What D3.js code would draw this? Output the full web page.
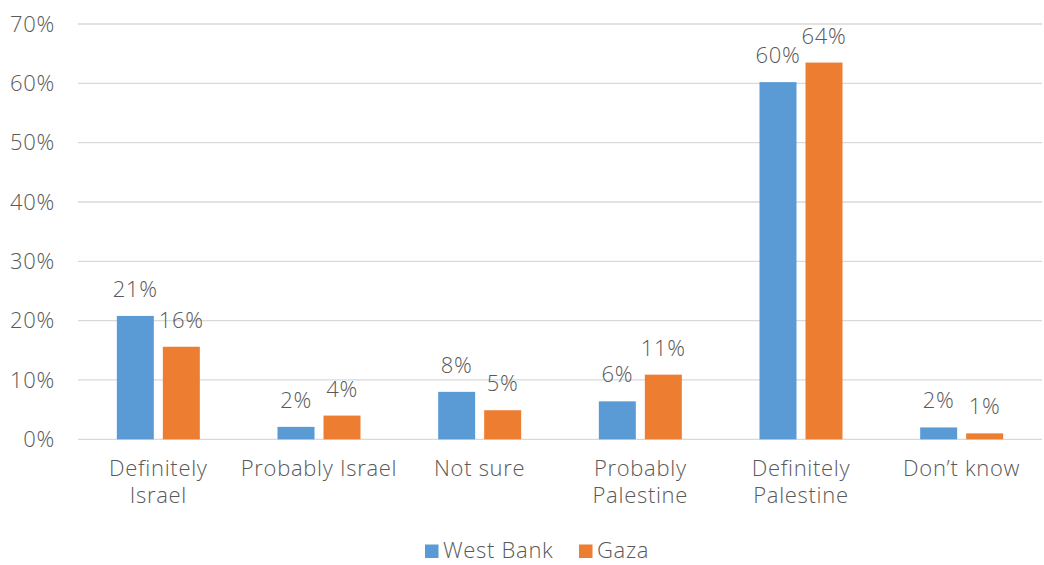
<!DOCTYPE html>
<html><head><meta charset="utf-8">
<script src="https://cdn.jsdelivr.net/npm/d3@7"></script>
<style>body{margin:0;background:#fff;} svg{display:block;font-family:"Open Sans",Lato,sans-serif;font-weight:300;letter-spacing:0.7px;}</style>
</head><body>
<svg id="c" width="1044" height="565"></svg>
<script>
const categories = [["Definitely","Israel"],["Probably Israel"],["Not sure"],["Probably","Palestine"],["Definitely","Palestine"],["Don’t know"]];
const seriesNames = ["West Bank","Gaza"];
const westBank = [20.8, 2.1, 8.0, 6.4, 60.2, 2.0];
const gaza = [15.6, 4.0, 4.9, 10.9, 63.5, 1.0];
const yTicks = [0,10,20,30,40,50,60,70];
const colors = ["#5b9bd5","#ed7d31"];

const svg = d3.select("#c");
const W=1044, H=565;
const m = {l:78, r:2, t:24, b:126};
const x = d3.scaleBand().domain(d3.range(categories.length)).range([m.l, W-m.r]);
const y = d3.scaleLinear().domain([0,70]).range([439.3, 24]);
const txt = "#595959";
const fs = 22;

// gridlines
svg.append("g").selectAll("line").data(yTicks).join("line")
  .attr("x1", m.l).attr("x2", W-m.r)
  .attr("y1", d=>y(d)).attr("y2", d=>y(d))
  .attr("stroke", "#d9d9d9").attr("stroke-width", 1.3);

// y tick labels
svg.append("g").selectAll("text").data(yTicks).join("text")
  .attr("x", 55).attr("y", d=>y(d)+7.7)
  .attr("text-anchor","end").attr("fill",txt).attr("font-size",fs)
  .text(d=>d+"%");

const barW = 37, gap = 9;
const series = [westBank, gaza];
series.forEach((vals, si) => {
  const off = si===0 ? -(gap/2+barW) : gap/2;
  const g = svg.append("g");
  g.selectAll("rect").data(vals).join("rect")
    .attr("x", (d,i)=>x(i)+x.bandwidth()/2+off)
    .attr("y", d=>y(d))
    .attr("width", barW)
    .attr("height", d=>y(0)-y(d))
    .attr("fill", colors[si]);
  g.selectAll("text").data(vals).join("text")
    .attr("x", (d,i)=>x(i)+x.bandwidth()/2+off+barW/2)
    .attr("y", d=>y(d)-19)
    .attr("text-anchor","middle").attr("fill",txt).attr("font-size",fs)
    .text(d=>Math.round(d)+"%");
});

// x labels (one text element per line)
const xl = svg.append("g");
categories.forEach((lines,i)=>{
  lines.forEach((ln,j)=>{
    xl.append("text").attr("x", x(i)+x.bandwidth()/2).attr("y", 476 + j*27)
      .attr("text-anchor","middle").attr("fill",txt).attr("font-size",fs).text(ln);
  });
});

// legend
const leg = svg.append("g");
const legX = [425, 579];
seriesNames.forEach((n,i)=>{
  leg.append("rect").attr("x", legX[i]).attr("y", 544.5).attr("width", 13.5).attr("height", 13.5).attr("fill", colors[i]);
  leg.append("text").attr("x", legX[i]+18).attr("y", 558).attr("fill",txt).attr("font-size",fs).text(n);
});
</script>
</body></html>
